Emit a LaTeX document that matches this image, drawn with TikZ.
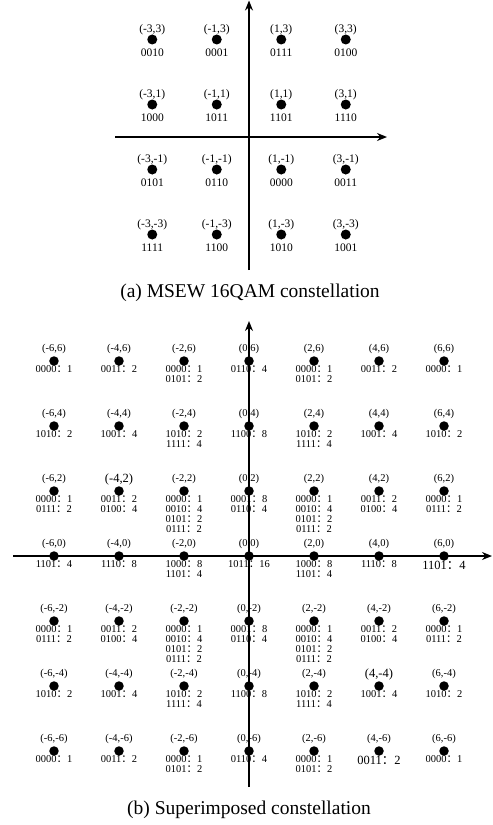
\documentclass[tikz,border=0pt]{standalone}
\usepackage{fontspec}
\setmainfont{Liberation Serif}
\newfontfamily\cjk{Noto Sans CJK SC}
\usetikzlibrary{arrows.meta}
\newcommand\qc{{\cjk ：}}
\tikzset{
  axis/.style={line width=1.5bp,-{Stealth[length=10bp,width=8bp]}},
  tdot/.style={circle,fill=black,inner sep=0pt,minimum size=10bp},
  bdot/.style={circle,fill=black,inner sep=0pt,minimum size=9.5bp},
  tcoord/.style={inner sep=0pt,font=\fontsize{11.5bp}{12bp}\selectfont},
  tcode/.style={inner sep=0pt,font=\fontsize{11.5bp}{12bp}\selectfont},
  bcoord/.style={inner sep=0pt,font=\fontsize{10.5bp}{11bp}\selectfont},
  bcode/.style={inner sep=0pt,anchor=north,align=center,font=\fontsize{10.5bp}{10bp}\selectfont},
  big/.style={font=\fontsize{12.5bp}{12bp}\selectfont},
  caption/.style={inner sep=0pt,font=\fontsize{19.5bp}{20bp}\selectfont}
}
% top point: name, X, Y, code
\newcommand\tpt[4]{%
  \node[tdot] (#1) at (#2,#3) {};
  \node[tcoord] (#1c) at ([yshift=10bp]#1.center) {(#2,#3)};
  \node[tcode] (#1l) at ([yshift=-13bp]#1.center) {#4};
}
% bottom point: name, X, Y, codes, extra style for coord, extra style for codes
\newcommand\bpt[6]{%
  \node[bdot] (#1) at (#2,#3) {};
  \node[bcoord,#5] (#1c) at ([yshift=12bp]#1.center) {(#2,#3)};
  \node[bcode,#6] (#1l) at ([yshift=-4.5bp]#1.center) {#4};
}
\begin{document}
\begin{tikzpicture}[x=1bp,y=-1bp]
\useasboundingbox (0,0) rectangle (493,825);
% ---------- (a) ----------
\begin{scope}[shift={(249,137)},x=32.25bp,y=32.5bp]
\tpt{tA}{-3}{3}{0010}
\tpt{tB}{-1}{3}{0001}
\tpt{tC}{1}{3}{0111}
\tpt{tD}{3}{3}{0100}
\tpt{tE}{-3}{1}{1000}
\tpt{tF}{-1}{1}{1011}
\tpt{tG}{1}{1}{1101}
\tpt{tH}{3}{1}{1110}
\tpt{tI}{-3}{-1}{0101}
\tpt{tJ}{-1}{-1}{0110}
\tpt{tK}{1}{-1}{0000}
\tpt{tL}{3}{-1}{0011}
\tpt{tM}{-3}{-3}{1111}
\tpt{tN}{-1}{-3}{1100}
\tpt{tO}{1}{-3}{1010}
\tpt{tP}{3}{-3}{1001}
\end{scope}
\coordinate (tv0) at (249,270);
\coordinate (tv1) at (249,0.5);
\coordinate (th0) at (115,137);
\coordinate (th1) at (387,137);
\draw[axis] (tv0) -- (tv1);
\draw[axis] (th0) -- (th1);
\node[caption] (capa) at (250,293) {(a) MSEW 16QAM constellation};
% ---------- (b) ----------
\begin{scope}[shift={(249,556)},x=32.5bp,y=32.5bp]
% row 6
\bpt{a1}{-6}{6}{0000\qc 1}{}{}
\bpt{a2}{-4}{6}{0011\qc 2}{}{}
\bpt{a3}{-2}{6}{0000\qc 1\\0101\qc 2}{}{}
\bpt{a4}{0}{6}{0110\qc 4}{}{}
\bpt{a5}{2}{6}{0000\qc 1\\0101\qc 2}{}{}
\bpt{a6}{4}{6}{0011\qc 2}{}{}
\bpt{a7}{6}{6}{0000\qc 1}{}{}
% row 4
\bpt{b1}{-6}{4}{1010\qc 2}{}{}
\bpt{b2}{-4}{4}{1001\qc 4}{}{}
\bpt{b3}{-2}{4}{1010\qc 2\\1111\qc 4}{}{}
\bpt{b4}{0}{4}{1100\qc 8}{}{}
\bpt{b5}{2}{4}{1010\qc 2\\1111\qc 4}{}{}
\bpt{b6}{4}{4}{1001\qc 4}{}{}
\bpt{b7}{6}{4}{1010\qc 2}{}{}
% row 2
\bpt{c1}{-6}{2}{0000\qc 1\\0111\qc 2}{}{}
\bpt{c2}{-4}{2}{0011\qc 2\\0100\qc 4}{big}{}
\bpt{c3}{-2}{2}{0000\qc 1\\0010\qc 4\\0101\qc 2\\0111\qc 2}{}{}
\bpt{c4}{0}{2}{0001\qc 8\\0110\qc 4}{}{}
\bpt{c5}{2}{2}{0000\qc 1\\0010\qc 4\\0101\qc 2\\0111\qc 2}{}{}
\bpt{c6}{4}{2}{0011\qc 2\\0100\qc 4}{}{}
\bpt{c7}{6}{2}{0000\qc 1\\0111\qc 2}{}{}
% row 0
\bpt{d1}{-6}{0}{1101\qc 4}{}{}
\bpt{d2}{-4}{0}{1110\qc 8}{}{}
\bpt{d3}{-2}{0}{1000\qc 8\\1101\qc 4}{}{}
\bpt{d4}{0}{0}{1011\qc 16}{}{}
\bpt{d5}{2}{0}{1000\qc 8\\1101\qc 4}{}{}
\bpt{d6}{4}{0}{1110\qc 8}{}{}
\bpt{d7}{6}{0}{1101\qc 4}{}{big}
% row -2
\bpt{e1}{-6}{-2}{0000\qc 1\\0111\qc 2}{}{}
\bpt{e2}{-4}{-2}{0011\qc 2\\0100\qc 4}{}{}
\bpt{e3}{-2}{-2}{0000\qc 1\\0010\qc 4\\0101\qc 2\\0111\qc 2}{}{}
\bpt{e4}{0}{-2}{0001\qc 8\\0110\qc 4}{}{}
\bpt{e5}{2}{-2}{0000\qc 1\\0010\qc 4\\0101\qc 2\\0111\qc 2}{}{}
\bpt{e6}{4}{-2}{0011\qc 2\\0100\qc 4}{}{}
\bpt{e7}{6}{-2}{0000\qc 1\\0111\qc 2}{}{}
% row -4
\bpt{f1}{-6}{-4}{1010\qc 2}{}{}
\bpt{f2}{-4}{-4}{1001\qc 4}{}{}
\bpt{f3}{-2}{-4}{1010\qc 2\\1111\qc 4}{}{}
\bpt{f4}{0}{-4}{1100\qc 8}{}{}
\bpt{f5}{2}{-4}{1010\qc 2\\1111\qc 4}{}{}
\bpt{f6}{4}{-4}{1001\qc 4}{big}{}
\bpt{f7}{6}{-4}{1010\qc 2}{}{}
% row -6
\bpt{g1}{-6}{-6}{0000\qc 1}{}{}
\bpt{g2}{-4}{-6}{0011\qc 2}{}{}
\bpt{g3}{-2}{-6}{0000\qc 1\\0101\qc 2}{}{}
\bpt{g4}{0}{-6}{0110\qc 4}{}{}
\bpt{g5}{2}{-6}{0000\qc 1\\0101\qc 2}{}{}
\bpt{g6}{4}{-6}{0011\qc 2}{}{big}
\bpt{g7}{6}{-6}{0000\qc 1}{}{}
\end{scope}
\coordinate (bv0) at (249,787);
\coordinate (bv1) at (249,321);
\coordinate (bh0) at (13,556);
\coordinate (bh1) at (492,556);
\draw[axis] (bv0) -- (bv1);
\draw[axis] (bh0) -- (bh1);
\node[caption] (capb) at (249,810) {(b) Superimposed constellation};
\end{tikzpicture}
\end{document}
